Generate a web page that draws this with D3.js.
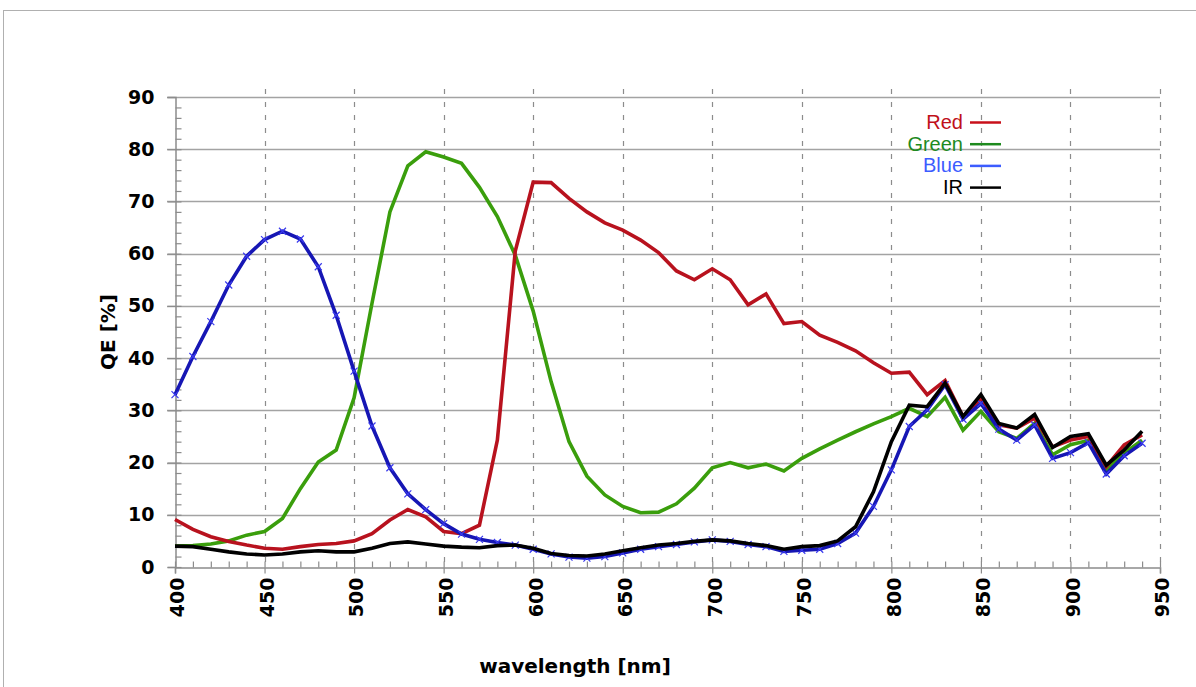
<!DOCTYPE html>
<html>
<head>
<meta charset="utf-8">
<script src="https://cdn.jsdelivr.net/npm/d3@7"></script>
<style>
  html, body { margin: 0; padding: 0; background: #fff; }
  svg { display: block; }
</style>
</head>
<body>
<div id="chart"></div>
<script>
// wavelength samples (nm)
const wavelengths = [400, 410, 420, 430, 440, 450, 460, 470, 480, 490,
  500, 510, 520, 530, 540, 550, 560, 570, 580, 590,
  600, 610, 620, 630, 640, 650, 660, 670, 680, 690,
  700, 710, 720, 730, 740, 750, 760, 770, 780, 790,
  800, 810, 820, 830, 840, 850, 860, 870, 880, 890,
  900, 910, 920, 930, 940];

const redQE = [9.1, 7.2, 5.8, 4.9, 4.2, 3.6, 3.4, 3.9, 4.3, 4.5,
  5.0, 6.4, 9.0, 11.0, 9.6, 6.8, 6.4, 8.0, 24.3, 60.5,
  73.7, 73.6, 70.6, 68.0, 65.9, 64.5, 62.6, 60.2, 56.7, 55.0,
  57.1, 55.0, 50.2, 52.3, 46.6, 47.0, 44.4, 43.0, 41.4, 39.1,
  37.1, 37.3, 33.0, 35.7, 28.8, 32.3, 27.2, 26.6, 28.5, 23.0,
  24.3, 25.0, 19.2, 23.4, 25.3];

const greenQE = [4.0, 4.1, 4.4, 5.0, 6.1, 6.8, 9.3, 15.0, 20.1, 22.4,
  32.4, 50.5, 68.0, 76.8, 79.5, 78.5, 77.3, 72.7, 67.1, 59.7,
  49.0, 35.5, 24.0, 17.4, 13.8, 11.6, 10.4, 10.5, 12.1, 15.1,
  19.0, 20.0, 19.0, 19.7, 18.4, 20.8, 22.6, 24.3, 25.9, 27.4,
  28.8, 30.4, 28.8, 32.5, 26.2, 29.8, 25.9, 24.6, 27.5, 21.5,
  23.4, 24.2, 18.6, 21.8, 24.3];

const blueQE = [33.0, 40.3, 47.0, 54.0, 59.5, 62.7, 64.3, 62.8, 57.5, 48.2,
  37.5, 27.0, 19.0, 14.0, 11.0, 8.3, 6.3, 5.3, 4.7, 4.2,
  3.4, 2.5, 1.9, 1.7, 2.0, 2.7, 3.4, 3.9, 4.3, 4.8,
  5.2, 4.9, 4.3, 3.9, 3.0, 3.2, 3.4, 4.5, 6.5, 11.6,
  18.6, 26.9, 30.1, 34.9, 28.3, 31.3, 26.4, 24.3, 27.2, 20.8,
  21.9, 23.8, 17.8, 21.3, 23.7];

const irQE = [4.0, 3.9, 3.4, 2.9, 2.5, 2.3, 2.5, 2.9, 3.1, 2.9,
  2.9, 3.6, 4.5, 4.8, 4.4, 4.0, 3.8, 3.7, 4.1, 4.2,
  3.6, 2.6, 2.2, 2.1, 2.5, 3.1, 3.7, 4.2, 4.5, 4.9,
  5.2, 5.0, 4.5, 4.1, 3.4, 3.9, 4.1, 5.0, 7.7, 14.4,
  24.0, 31.0, 30.7, 35.2, 28.8, 33.0, 27.5, 26.6, 29.2, 22.9,
  25.0, 25.5, 19.5, 22.4, 26.0];

const xTicks = [400, 450, 500, 550, 600, 650, 700, 750, 800, 850, 900, 950];
const yTicks = [0, 10, 20, 30, 40, 50, 60, 70, 80, 90];

const seriesNames = ["Red", "Green", "Blue", "IR"];

const W = 1196, H = 687;
const plot = { left: 175, right: 1160, top: 97, bottom: 567 };

const svg = d3.select("#chart").append("svg")
    .attr("width", W)
    .attr("height", H);

// outer frame
svg.append("rect")
    .attr("x", 3.5).attr("y", 10.5)
    .attr("width", W + 10).attr("height", H + 10)
    .attr("fill", "none")
    .attr("stroke", "#b0b0b0")
    .attr("stroke-width", 1);

const xScale = d3.scaleLinear().domain([400, 950]).range([plot.left, plot.right]);
const yScale = d3.scaleLinear().domain([0, 90]).range([plot.bottom, plot.top]);

const font = "'DejaVu Sans', Verdana, sans-serif";

// horizontal grid
svg.append("g")
    .selectAll("line")
    .data(yTicks.filter(d => d > 0))
    .join("line")
    .attr("x1", plot.left - 8).attr("x2", plot.right)
    .attr("y1", d => Math.round(yScale(d)) + 0.5)
    .attr("y2", d => Math.round(yScale(d)) + 0.5)
    .attr("stroke", "#a3a3a3")
    .attr("stroke-width", 1.5);

// vertical dashed grid
svg.append("g")
    .selectAll("line")
    .data(xTicks.filter(d => d > 400))
    .join("line")
    .attr("x1", d => Math.round(xScale(d)) + 0.5)
    .attr("x2", d => Math.round(xScale(d)) + 0.5)
    .attr("y1", plot.top - 8).attr("y2", plot.bottom)
    .attr("stroke", "#8c8c8c")
    .attr("stroke-width", 1.2)
    .attr("stroke-dasharray", "5,8");

// y axis with minor ticks
const yAxis = d3.axisLeft(yScale).tickValues(yTicks).tickSize(8).tickFormat(d3.format("d")).tickPadding(13);
const yMinor = d3.axisRight(yScale).tickValues(d3.range(0, 90, 2)).tickSize(6).tickFormat("");
const gy = svg.append("g").attr("transform", `translate(${plot.left + 0.5},0)`).call(yAxis);
const gyMinor = svg.append("g").attr("transform", `translate(${plot.left + 0.5},0)`).call(yMinor);

// x axis with minor ticks
const xAxis = d3.axisBottom(xScale).tickValues(xTicks).tickSize(6).tickFormat(d3.format("d"));
const xMinor = d3.axisTop(xScale).tickValues(d3.range(400, 951, 10)).tickSize(6).tickFormat("");
const gx = svg.append("g").attr("transform", `translate(0,${plot.bottom + 0.5})`).call(xAxis);
const gxMinor = svg.append("g").attr("transform", `translate(0,${plot.bottom + 0.5})`).call(xMinor);

[gy, gyMinor, gx, gxMinor].forEach(g => {
    g.selectAll(".domain").attr("stroke", "#8c8c8c").attr("stroke-width", 1.5);
    g.selectAll(".tick line").attr("stroke", "#8c8c8c").attr("stroke-width", 1.2);
});
gyMinor.select(".domain").remove();
gxMinor.select(".domain").remove();

gy.selectAll("text")
    .attr("font-family", font)
    .attr("font-weight", "bold")
    .attr("font-size", 19)
    .attr("fill", "#000");

gx.selectAll("text")
    .attr("font-family", font)
    .attr("font-weight", "bold")
    .attr("font-size", 19)
    .attr("fill", "#000")
    .attr("text-anchor", "end")
    .attr("dy", "0.36em")
    .attr("y", 0)
    .attr("transform", "translate(2,10) rotate(-90)");

// axis titles
svg.append("text")
    .attr("transform", `translate(115,${(plot.top + plot.bottom) / 2}) rotate(-90)`)
    .attr("text-anchor", "middle")
    .attr("font-family", font)
    .attr("font-weight", "bold")
    .attr("font-size", 20)
    .text("QE [%]");

svg.append("text")
    .attr("x", 575).attr("y", 673)
    .attr("text-anchor", "middle")
    .attr("font-family", font)
    .attr("font-weight", "bold")
    .attr("font-size", 20)
    .text("wavelength [nm]");

// curves
const lineColors = { Red: "#b8121e", Green: "#3a9e0c", Blue: "#1616b4", IR: "#000000" };
const seriesValues = { Red: redQE, Green: greenQE, Blue: blueQE, IR: irQE };

const line = d3.line()
    .x(d => xScale(d.wl))
    .y(d => yScale(d.v));

const drawOrder = ["Green", "Red", "Blue", "IR"];
drawOrder.forEach(name => {
    const pts = wavelengths.map((wl, i) => ({ wl, v: seriesValues[name][i] }));
    svg.append("path")
        .datum(pts)
        .attr("d", line)
        .attr("fill", "none")
        .attr("stroke", lineColors[name])
        .attr("stroke-width", 3.6)
        .attr("stroke-linejoin", "miter")
        .attr("stroke-linecap", "butt");

    if (name === "Blue") {
        const s = 3.5;
        svg.append("g")
            .selectAll("path")
            .data(pts)
            .join("path")
            .attr("d", d => {
                const cx = xScale(d.wl), cy = yScale(d.v);
                return `M${cx - s},${cy - s}L${cx + s},${cy + s}M${cx - s},${cy + s}L${cx + s},${cy - s}`;
            })
            .attr("stroke", "#3a3aee")
            .attr("stroke-width", 1.2)
            .attr("fill", "none");
    }
});

// legend
const legendText = { Red: "#c0101a", Green: "#1e8a1e", Blue: "#3c5cff", IR: "#000000" };
const legendLine = { Red: "#c8101a", Green: "#1e8a1e", Blue: "#3c5cff", IR: "#000000" };
const legend = svg.append("g");
seriesNames.forEach((name, i) => {
    const y = 122 + i * 21.7;
    legend.append("text")
        .attr("x", 963).attr("y", y)
        .attr("dy", "0.35em")
        .attr("text-anchor", "end")
        .attr("font-family", "'Liberation Sans', Arial, sans-serif")
        .attr("font-size", 20)
        .attr("fill", legendText[name])
        .text(name);
    legend.append("line")
        .attr("x1", 970).attr("x2", 1001)
        .attr("y1", y + 0.5).attr("y2", y + 0.5)
        .attr("stroke", legendLine[name])
        .attr("stroke-width", 2.5);
});
</script>
</body>
</html>
